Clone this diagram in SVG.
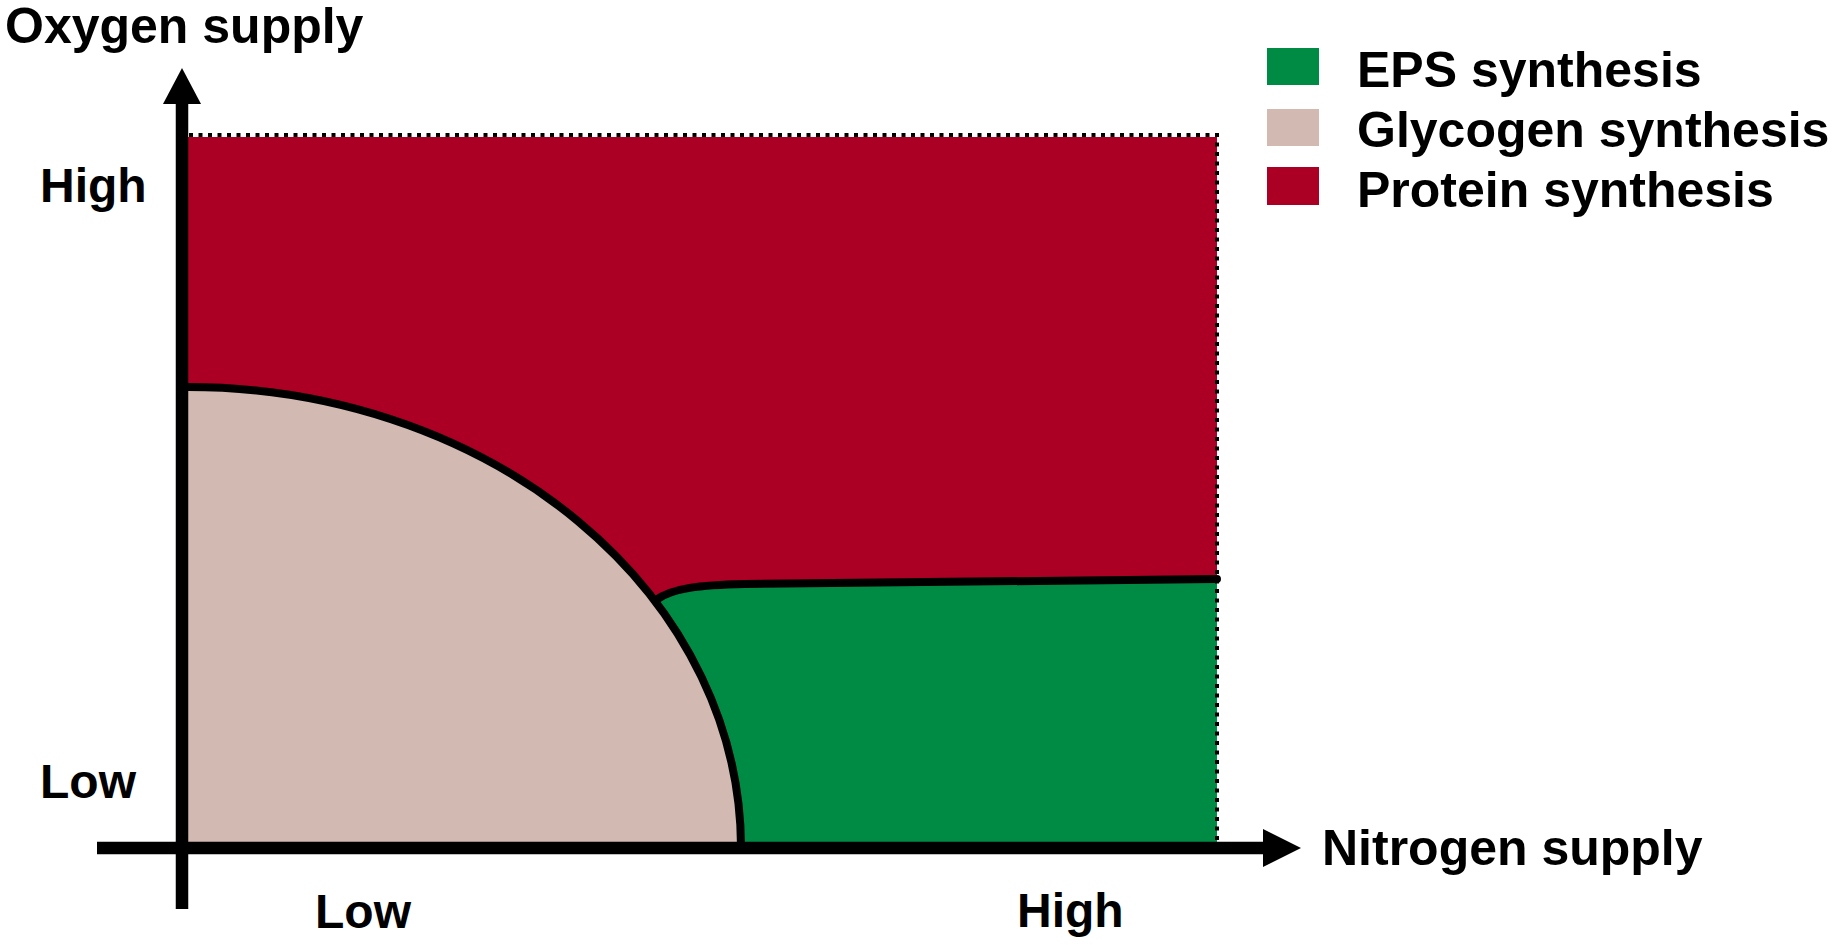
<svg xmlns="http://www.w3.org/2000/svg" width="1835" height="945" viewBox="0 0 1835 945">
<style>
text{font-family:"Liberation Sans",Arial,sans-serif;font-weight:bold;fill:#000}
.t50{font-size:50px}
.t48{font-size:48px}
.bd{fill:none;stroke:#000;stroke-width:8;stroke-linejoin:round;stroke-linecap:round}
.dot{fill:none;stroke:#000;stroke-width:4;stroke-dasharray:4 5.5}
.red{fill:#AB0024}
.green{fill:#008B45}
.beige{fill:#D2B9B1}
</style>
<rect width="1835" height="945" fill="#fff"/>
<g id="regions">
<g id="protein-region"><rect class="red" x="186" y="137" width="1031" height="709"/></g>
<g id="glycogen-region"><path class="beige" d="M186,846 L186,387 A553,461 0 0 1 741,846 Z"/></g>
<g id="eps-region"><path class="green" d="M656,600 C672,588 700,585 745,584 L1217,579 L1217,846 L741,846 A553,461 0 0 0 656,600 Z"/></g>
</g>
<g id="borders">
<path class="dot" d="M189,135 L1217,135 L1217,846"/>
<path class="bd" d="M188,387 A553,461 0 0 1 741,846"/>
<path class="bd" d="M656,600 C672,588 700,585 745,584 L1217,579"/>
</g>
<g id="connectors">
<g id="y-axis"><line x1="182" y1="100" x2="182" y2="909" stroke="#000" stroke-width="12.5"/><polygon points="163,104 201,104 182,68" fill="#000"/></g>
<g id="x-axis"><line x1="97" y1="848" x2="1267" y2="848" stroke="#000" stroke-width="12.5"/><polygon points="1263,829 1263,867 1301,848" fill="#000"/></g>
</g>
<g id="axis-labels">
<text class="t50" x="5" y="43">Oxygen supply</text>
<text class="t50" x="1322" y="865">Nitrogen supply</text>
<text class="t48" x="40" y="202">High</text>
<text class="t48" x="40" y="798">Low</text>
<text class="t48" x="315" y="928">Low</text>
<text class="t48" x="1017" y="927">High</text>
</g>
<g id="legend">
<g id="legend-eps"><rect class="green" x="1267" y="48" width="52" height="37"/><text class="t50" x="1357" y="87">EPS synthesis</text></g>
<g id="legend-glycogen"><rect class="beige" x="1267" y="109" width="52" height="37"/><text class="t50" x="1357" y="147">Glycogen synthesis</text></g>
<g id="legend-protein"><rect class="red" x="1267" y="167" width="52" height="38"/><text class="t50" x="1357" y="207">Protein synthesis</text></g>
</g>
</svg>
